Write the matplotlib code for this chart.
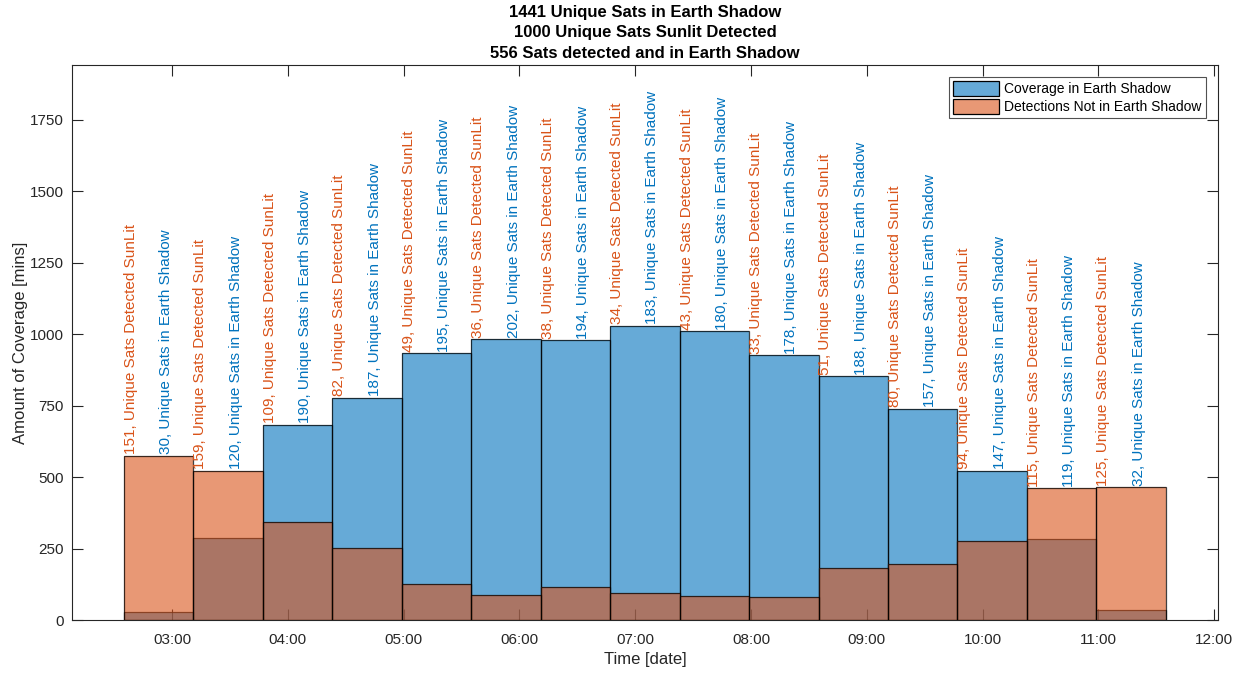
import matplotlib
matplotlib.use("Agg")
import matplotlib.pyplot as plt
from matplotlib.patches import Patch
import numpy as np

plt.rcParams['font.family'] = ['Liberation Sans', 'DejaVu Sans']

# ---- data ----
bin_start_hour = 2 + 35 / 60.0          # first bin edge 02:35
bin_width_hours = 0.6                   # 36-minute bins
shadow_coverage = [29, 288, 684, 778, 934, 982, 979, 1029, 1010, 927, 853, 739, 522, 284, 37]
sunlit_detections = [575, 522, 345, 253, 128, 88, 116, 95, 86, 80, 182, 198, 276, 461, 465]
shadow_unique = [30, 120, 190, 187, 195, 202, 194, 183, 180, 178, 188, 157, 147, 119, 32]
sunlit_unique = [151, 159, 109, 82, 49, 36, 38, 34, 43, 33, 51, 80, 94, 115, 125]
xtick_hours = [3, 4, 5, 6, 7, 8, 9, 10, 11, 12]
xtick_labels = ["03:00", "04:00", "05:00", "06:00", "07:00", "08:00", "09:00", "10:00", "11:00", "12:00"]
ytick_values = [0, 250, 500, 750, 1000, 1250, 1500, 1750]
title_lines = ["1441 Unique Sats in Earth Shadow",
               "1000 Unique Sats Sunlit Detected",
               "556 Sats detected and in Earth Shadow"]

blue = (0, 0.447, 0.741)
orange = (0.85, 0.325, 0.098)
axc = (0.15, 0.15, 0.15)

n = len(shadow_coverage)
left_edges = bin_start_hour + bin_width_hours * np.arange(n)

fig = plt.figure(figsize=(12.44, 6.74), dpi=100)
ax = fig.add_axes([0.0579, 0.0797, 0.9212, 0.8243])

ax.bar(left_edges, shadow_coverage, width=bin_width_hours, align='edge',
       color=blue, alpha=0.6, edgecolor='none', zorder=2)
ax.bar(left_edges, shadow_coverage, width=bin_width_hours, align='edge',
       fill=False, edgecolor=(0, 0, 0, 0.75), linewidth=0.9, zorder=2.1)
ax.bar(left_edges, sunlit_detections, width=bin_width_hours, align='edge',
       color=orange, alpha=0.6, edgecolor='none', zorder=3)
ax.bar(left_edges, sunlit_detections, width=bin_width_hours, align='edge',
       fill=False, edgecolor=(0, 0, 0, 0.75), linewidth=0.9, zorder=3.1)

for i in range(n):
    top = max(shadow_coverage[i], sunlit_detections[i]) + 6
    ax.text(left_edges[i] + 0.10 * bin_width_hours, top,
            f"{sunlit_unique[i]}, Unique Sats Detected SunLit",
            rotation=90, ha='center', va='bottom', color=orange, fontsize=11, zorder=5)
    ax.text(left_edges[i] + 0.61 * bin_width_hours, top,
            f"{shadow_unique[i]}, Unique Sats in Earth Shadow",
            rotation=90, ha='center', va='bottom', color=blue, fontsize=11, zorder=5)

ax.set_xlim(2 + 8.2 / 60.0, 12 + 2.0 / 60.0)
ax.set_ylim(0, 1943)
ax.set_xticks(xtick_hours)
ax.set_xticklabels(xtick_labels)
ax.set_yticks(ytick_values)

ax.tick_params(axis='both', direction='in', length=8, width=0.8, colors=axc,
               labelsize=11, top=True, right=True, pad=6)
ax.tick_params(axis='x', pad=9)
for s in ax.spines.values():
    s.set_color(axc)
    s.set_linewidth(0.8)

ax.set_xlabel("Time [date]", fontsize=12, color=axc, labelpad=4)
ax.set_ylabel("Amount of Coverage [mins]", fontsize=12, color=axc, labelpad=1)
ax.set_title("\n".join(title_lines), fontsize=12, fontweight='bold', color='black',
             pad=5, linespacing=1.45)

handles = [Patch(facecolor=blue, alpha=0.6, edgecolor='black', linewidth=0.9),
           Patch(facecolor=orange, alpha=0.6, edgecolor='black', linewidth=0.9)]
leg = ax.legend(handles, ["Coverage in Earth Shadow", "Detections Not in Earth Shadow"],
                loc='upper right', fontsize=10, frameon=True, fancybox=False,
                edgecolor=axc, borderpad=0.3, handlelength=3.3, handleheight=1.3,
                handletextpad=0.4, labelspacing=0.2, borderaxespad=0.0,
                bbox_to_anchor=(0.9895, 0.978))
leg.get_frame().set_linewidth(0.8)
for h in leg.legend_handles:
    h.set_alpha(None)
    h.set_facecolor(tuple(list(c * 0.6 + 0.4 for c in h.get_facecolor()[:3]) + [1]))

fig.savefig("out.png", dpi=100)
